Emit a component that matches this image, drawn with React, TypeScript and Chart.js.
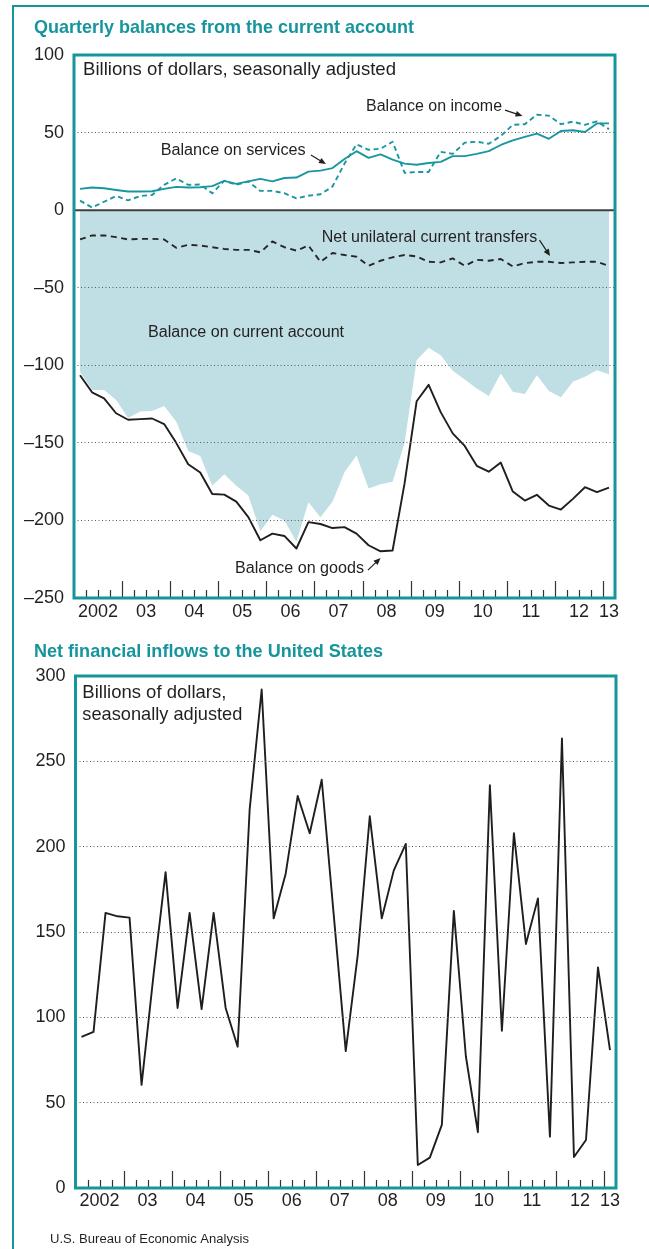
import React, { useEffect, useRef } from 'react';
import { Chart, registerables } from 'chart.js';

Chart.register(...registerables);

const TEAL = '#17959c';
const LINE_TEAL = '#1a96a0';
const FILL = '#c0dfe4';
const INK = '#231f20';
const FONT = '"Liberation Sans", Arial, Helvetica, sans-serif';

const quarterCount = 45; // 2002Q1 .. 2013Q1
const yearLabels = ['2002', '03', '04', '05', '06', '07', '08', '09', '10', '11', '12', '13'];
const yearLabelPositions = [2, 6, 10, 14, 18, 22, 26, 30, 34, 38, 42, 44.5];

const topYTicksDotted = [50, -50, -100, -150, -200];
const bottomYTicksDotted = [250, 200, 150, 100, 50];

const servicesBalance = [
  13.7, 14.6, 14.1, 13.0, 12.0, 12.0, 12.2, 13.7, 15.0, 14.6, 14.8, 15.5, 18.9, 16.9, 18.5,
  20.2, 18.5, 20.7, 21.0, 24.8, 25.5, 27.1, 33.0, 38.0, 33.7, 35.9, 32.6, 30.0, 29.3, 30.4,
  31.1, 34.8, 34.8, 36.3, 38.0, 42.0, 45.0, 47.2, 49.3, 46.0, 51.0, 51.5, 50.4, 55.9, 55.9,
];

const incomeBalance = [
  6.1, 1.7, 5.4, 9.1, 6.3, 9.1, 9.8, 16.3, 20.4, 16.3, 16.5, 10.9, 18.9, 16.3, 18.5,
  12.4, 12.4, 10.9, 7.6, 9.3, 10.2, 15.2, 30.0, 42.4, 38.9, 39.6, 44.1, 24.0, 24.6, 24.6,
  37.6, 36.3, 43.5, 44.1, 42.8, 47.8, 55.0, 55.4, 61.5, 60.9, 55.4, 57.0, 55.0, 57.2, 52.2,
];

const netTransfers = [
  -18.9, -16.3, -16.3, -17.4, -18.9, -18.5, -18.5, -18.9, -24.3, -22.4, -22.8, -23.9, -25.0, -25.6, -25.6,
  -27.2, -20.2, -23.9, -26.1, -22.8, -33.3, -27.6, -28.9, -30.0, -35.9, -32.6, -30.4, -28.9, -29.8, -33.3,
  -33.7, -31.1, -35.9, -32.0, -32.6, -31.5, -36.3, -34.1, -33.3, -33.3, -34.1, -33.7, -33.3, -33.3, -35.9,
];

const goodsBalance = [
  -106.4, -117.4, -121.3, -130.9, -135.1, -134.7, -134.3, -137.9, -150.0, -163.8, -169.1, -183.0, -183.4, -187.9, -197.9,
  -212.8, -208.5, -210.0, -218.1, -201.1, -202.3, -204.9, -204.3, -208.5, -216.0, -219.9, -219.4, -176.0, -123.2, -112.6,
  -130.2, -143.9, -152.0, -164.8, -168.6, -162.7, -181.4, -187.2, -183.5, -190.4, -193.0, -186.1, -178.6, -181.8, -178.8,
];

const currentAccountBalance = [
  -104.3, -116.0, -116.0, -122.3, -134.0, -129.8, -129.4, -126.2, -136.2, -155.3, -158.5, -177.7, -170.2, -177.7, -184.0,
  -207.0, -196.4, -200.0, -213.8, -188.3, -197.9, -187.9, -169.0, -158.1, -179.4, -176.6, -175.1, -150.0, -96.8, -88.7,
  -93.6, -103.6, -109.1, -114.9, -119.8, -105.3, -117.0, -118.5, -106.4, -116.6, -120.6, -110.6, -107.4, -103.2, -105.7,
];

const netFinancialInflows = [
  88.5, 91.5, 161.2, 159.2, 158.4, 60.4, 125.0, 185.1, 105.5, 161.2, 104.8, 161.2, 105.5, 82.8, 221.8,
  292.1, 158.0, 184.2, 229.7, 207.9, 239.2, 160.0, 80.2, 136.6, 217.8, 158.0, 186.1, 201.6, 13.5, 17.8,
  37.0, 162.4, 77.2, 32.7, 236.0, 92.1, 207.9, 143.0, 169.7, 30.1, 263.4, 18.2, 28.1, 129.3, 80.8,
];

const toPoints = (vals: number[]) => vals.map((v, i) => ({ x: i + 0.5, y: v }));

type Note = { text: string; x: number; y: number; size: number; width: number };
type Arrow = { x1: number; y1: number; x2: number; y2: number };
type Caption = { text: string; x: number; y: number; size: number; width: number; bold?: boolean; color: string };

function drawFit(ctx: CanvasRenderingContext2D, text: string, x: number, y: number, size: number, width: number, color: string, bold = false) {
  ctx.save();
  ctx.font = `${bold ? 'bold ' : ''}${size}px ${FONT}`;
  ctx.fillStyle = color;
  ctx.textBaseline = 'middle';
  ctx.textAlign = 'left';
  const w = ctx.measureText(text).width;
  ctx.translate(x, y);
  ctx.scale(width / w, 1);
  ctx.fillText(text, 0, 0);
  ctx.restore();
}

function drawArrow(ctx: CanvasRenderingContext2D, x1: number, y1: number, x2: number, y2: number) {
  ctx.save();
  ctx.strokeStyle = INK;
  ctx.fillStyle = INK;
  ctx.lineWidth = 1.2;
  const a = Math.atan2(y2 - y1, x2 - x1);
  const L = 7;
  const W = 3;
  ctx.beginPath();
  ctx.moveTo(x1, y1);
  ctx.lineTo(x2 - L * 0.6 * Math.cos(a), y2 - L * 0.6 * Math.sin(a));
  ctx.stroke();
  ctx.beginPath();
  ctx.moveTo(x2, y2);
  ctx.lineTo(x2 - L * Math.cos(a) + W * Math.sin(a), y2 - L * Math.sin(a) - W * Math.cos(a));
  ctx.lineTo(x2 - L * Math.cos(a) - W * Math.sin(a), y2 - L * Math.sin(a) + W * Math.cos(a));
  ctx.closePath();
  ctx.fill();
  ctx.restore();
}

function decorPlugin(opts: { zeroLine: boolean; notes: Note[]; arrows: Arrow[]; captions: Caption[] }) {
  return {
    id: 'decor',
    afterDraw(chart: any) {
      const { ctx, chartArea: a } = chart;
      const xs = chart.scales.x;
      const ys = chart.scales.y;
      ctx.save();
      if (opts.zeroLine) {
        const y0 = ys.getPixelForValue(0);
        ctx.strokeStyle = '#3f3f3f';
        ctx.lineWidth = 2;
        ctx.beginPath();
        ctx.moveTo(a.left, y0);
        ctx.lineTo(a.right, y0);
        ctx.stroke();
      }
      ctx.strokeStyle = '#333';
      ctx.lineWidth = 1.2;
      for (let k = 1; k < quarterCount; k++) {
        const px = Math.round(xs.getPixelForValue(k)) + 0.5;
        const len = k % 4 === 0 ? 17 : 8;
        ctx.beginPath();
        ctx.moveTo(px, a.bottom);
        ctx.lineTo(px, a.bottom - len);
        ctx.stroke();
      }
      ctx.strokeStyle = TEAL;
      ctx.lineWidth = 3;
      ctx.strokeRect(a.left, a.top, a.right - a.left, a.bottom - a.top);
      ctx.restore();
      for (const n of opts.notes) {
        drawFit(ctx, n.text, xs.getPixelForValue(n.x), ys.getPixelForValue(n.y), n.size, n.width, INK);
      }
      for (const r of opts.arrows) {
        drawArrow(ctx, xs.getPixelForValue(r.x1), ys.getPixelForValue(r.y1), xs.getPixelForValue(r.x2), ys.getPixelForValue(r.y2));
      }
      for (const c of opts.captions) {
        drawFit(ctx, c.text, c.x, c.y, c.size, c.width, c.color, c.bold);
      }
    },
  };
}

const xScaleOptions = (pad: number, height: number) => ({
  type: 'linear',
  min: 0,
  max: quarterCount,
  grid: { display: false, drawTicks: false },
  border: { display: false },
  ticks: {
    autoSkip: false,
    maxRotation: 0,
    minRotation: 0,
    padding: pad,
    color: INK,
    font: { family: FONT, size: 18 },
    callback: (_v: any, i: number) => yearLabels[i],
  },
  afterBuildTicks: (s: any) => {
    s.ticks = yearLabelPositions.map((v) => ({ value: v }));
  },
  afterFit: (s: any) => {
    s.height = height;
  },
});

const yScaleOptions = (min: number, max: number, dotted: number[], width: number) => ({
  type: 'linear',
  min,
  max,
  ticks: {
    stepSize: 50,
    padding: 10,
    color: INK,
    font: { family: FONT, size: 18 },
    callback: (v: any) => (v < 0 ? '\u2013' + Math.abs(v) : String(v)),
  },
  grid: {
    drawTicks: false,
    lineWidth: 1,
    z: 1,
    color: (c: any) => (c.tick && dotted.includes(c.tick.value) ? '#5a5a5a' : 'rgba(0,0,0,0)'),
  },
  border: { display: false, dash: [1, 2.5] },
  afterFit: (s: any) => {
    s.width = width;
  },
});

const lineDs = (label: string, vals: number[], color: string, dash: number[] = []) => ({
  label,
  data: toPoints(vals),
  borderColor: color,
  borderWidth: 1.9,
  borderDash: dash,
  borderJoinStyle: 'round',
  pointRadius: 0,
  tension: 0,
  fill: false,
});

function topConfig(): any {
  return {
    type: 'line',
    data: {
      datasets: [
        lineDs('Balance on goods', goodsBalance, '#1e1e1e'),
        lineDs('Balance on services', servicesBalance, LINE_TEAL),
        lineDs('Balance on income', incomeBalance, LINE_TEAL, [5, 3.5]),
        lineDs('Net unilateral current transfers', netTransfers, '#262626', [6, 4.5]),
        {
          label: 'Balance on current account',
          data: toPoints(currentAccountBalance),
          borderWidth: 0,
          borderColor: 'rgba(0,0,0,0)',
          backgroundColor: FILL,
          pointRadius: 0,
          tension: 0,
          fill: 'origin',
        },
      ],
    },
    options: {
      responsive: false,
      animation: false,
      devicePixelRatio: 1,
      events: [],
      layout: { padding: { top: 55, right: 34, left: 0, bottom: 0 } },
      plugins: { legend: { display: false }, tooltip: { enabled: false } },
      scales: {
        x: xScaleOptions(3, 32),
        y: yScaleOptions(-250, 100, topYTicksDotted, 74),
      },
    },
    plugins: [
      decorPlugin({
        zeroLine: true,
        notes: [
          { text: 'Billions of dollars, seasonally adjusted', x: 0.75, y: 90.3, size: 18.5, width: 313 },
          { text: 'Balance on income', x: 24.29, y: 66.6, size: 16, width: 136 },
          { text: 'Balance on services', x: 7.21, y: 38.3, size: 16, width: 145 },
          { text: 'Net unilateral current transfers', x: 20.6, y: -17.5, size: 16, width: 215.5 },
          { text: 'Balance on current account', x: 6.16, y: -79, size: 16, width: 196 },
          { text: 'Balance on goods', x: 13.39, y: -230.9, size: 16, width: 129 },
        ],
        arrows: [
          { x1: 35.85, y1: 64.5, x2: 37.31, y2: 60.7 },
          { x1: 19.71, y1: 35.5, x2: 20.96, y2: 29.7 },
          { x1: 38.72, y1: -19.3, x2: 39.6, y2: -29.6 },
          { x1: 24.45, y1: -232, x2: 25.5, y2: -224.2 },
        ],
        captions: [
          { text: 'Quarterly balances from the current account', x: 34, y: 28, size: 19, width: 380, bold: true, color: TEAL },
        ],
      }),
    ],
  };
}

function bottomConfig(): any {
  return {
    type: 'line',
    data: {
      datasets: [lineDs('Net financial inflows', netFinancialInflows, '#1e1e1e')],
    },
    options: {
      responsive: false,
      animation: false,
      devicePixelRatio: 1,
      events: [],
      layout: { padding: { top: 46, right: 33, left: 0, bottom: 0 } },
      plugins: { legend: { display: false }, tooltip: { enabled: false } },
      scales: {
        x: xScaleOptions(2, 61),
        y: yScaleOptions(0, 300, bottomYTicksDotted, 75.5),
      },
    },
    plugins: [
      decorPlugin({
        zeroLine: false,
        notes: [
          { text: 'Billions of dollars,', x: 0.57, y: 290, size: 18.5, width: 144 },
          { text: 'seasonally adjusted', x: 0.57, y: 277.1, size: 18.5, width: 160 },
        ],
        arrows: [],
        captions: [
          { text: 'Net financial inflows to the United States', x: 34, y: 22, size: 19, width: 349, bold: true, color: TEAL },
          { text: 'U.S. Bureau of Economic Analysis', x: 50, y: 610, size: 12.5, width: 199, color: INK },
        ],
      }),
    ],
  };
}

export default function App() {
  const topRef = useRef<HTMLCanvasElement>(null);
  const botRef = useRef<HTMLCanvasElement>(null);

  useEffect(() => {
    const c1 = new Chart(topRef.current as HTMLCanvasElement, topConfig());
    const c2 = new Chart(botRef.current as HTMLCanvasElement, bottomConfig());
    return () => {
      c1.destroy();
      c2.destroy();
    };
  }, []);

  return (
    <div style={{ position: 'absolute', left: 0, top: 0, width: 649, height: 1249, background: '#fff', overflow: 'hidden' }}>
      <div
        style={{
          position: 'absolute',
          left: 12,
          top: 5,
          width: 700,
          height: 1300,
          borderLeft: `2px solid ${TEAL}`,
          borderTop: `2px solid ${TEAL}`,
        }}
      />
      <canvas ref={topRef} width={649} height={630} style={{ position: 'absolute', left: 0, top: 0, width: 649, height: 630 }} />
      <canvas ref={botRef} width={649} height={619} style={{ position: 'absolute', left: 0, top: 630, width: 649, height: 619 }} />
    </div>
  );
}
